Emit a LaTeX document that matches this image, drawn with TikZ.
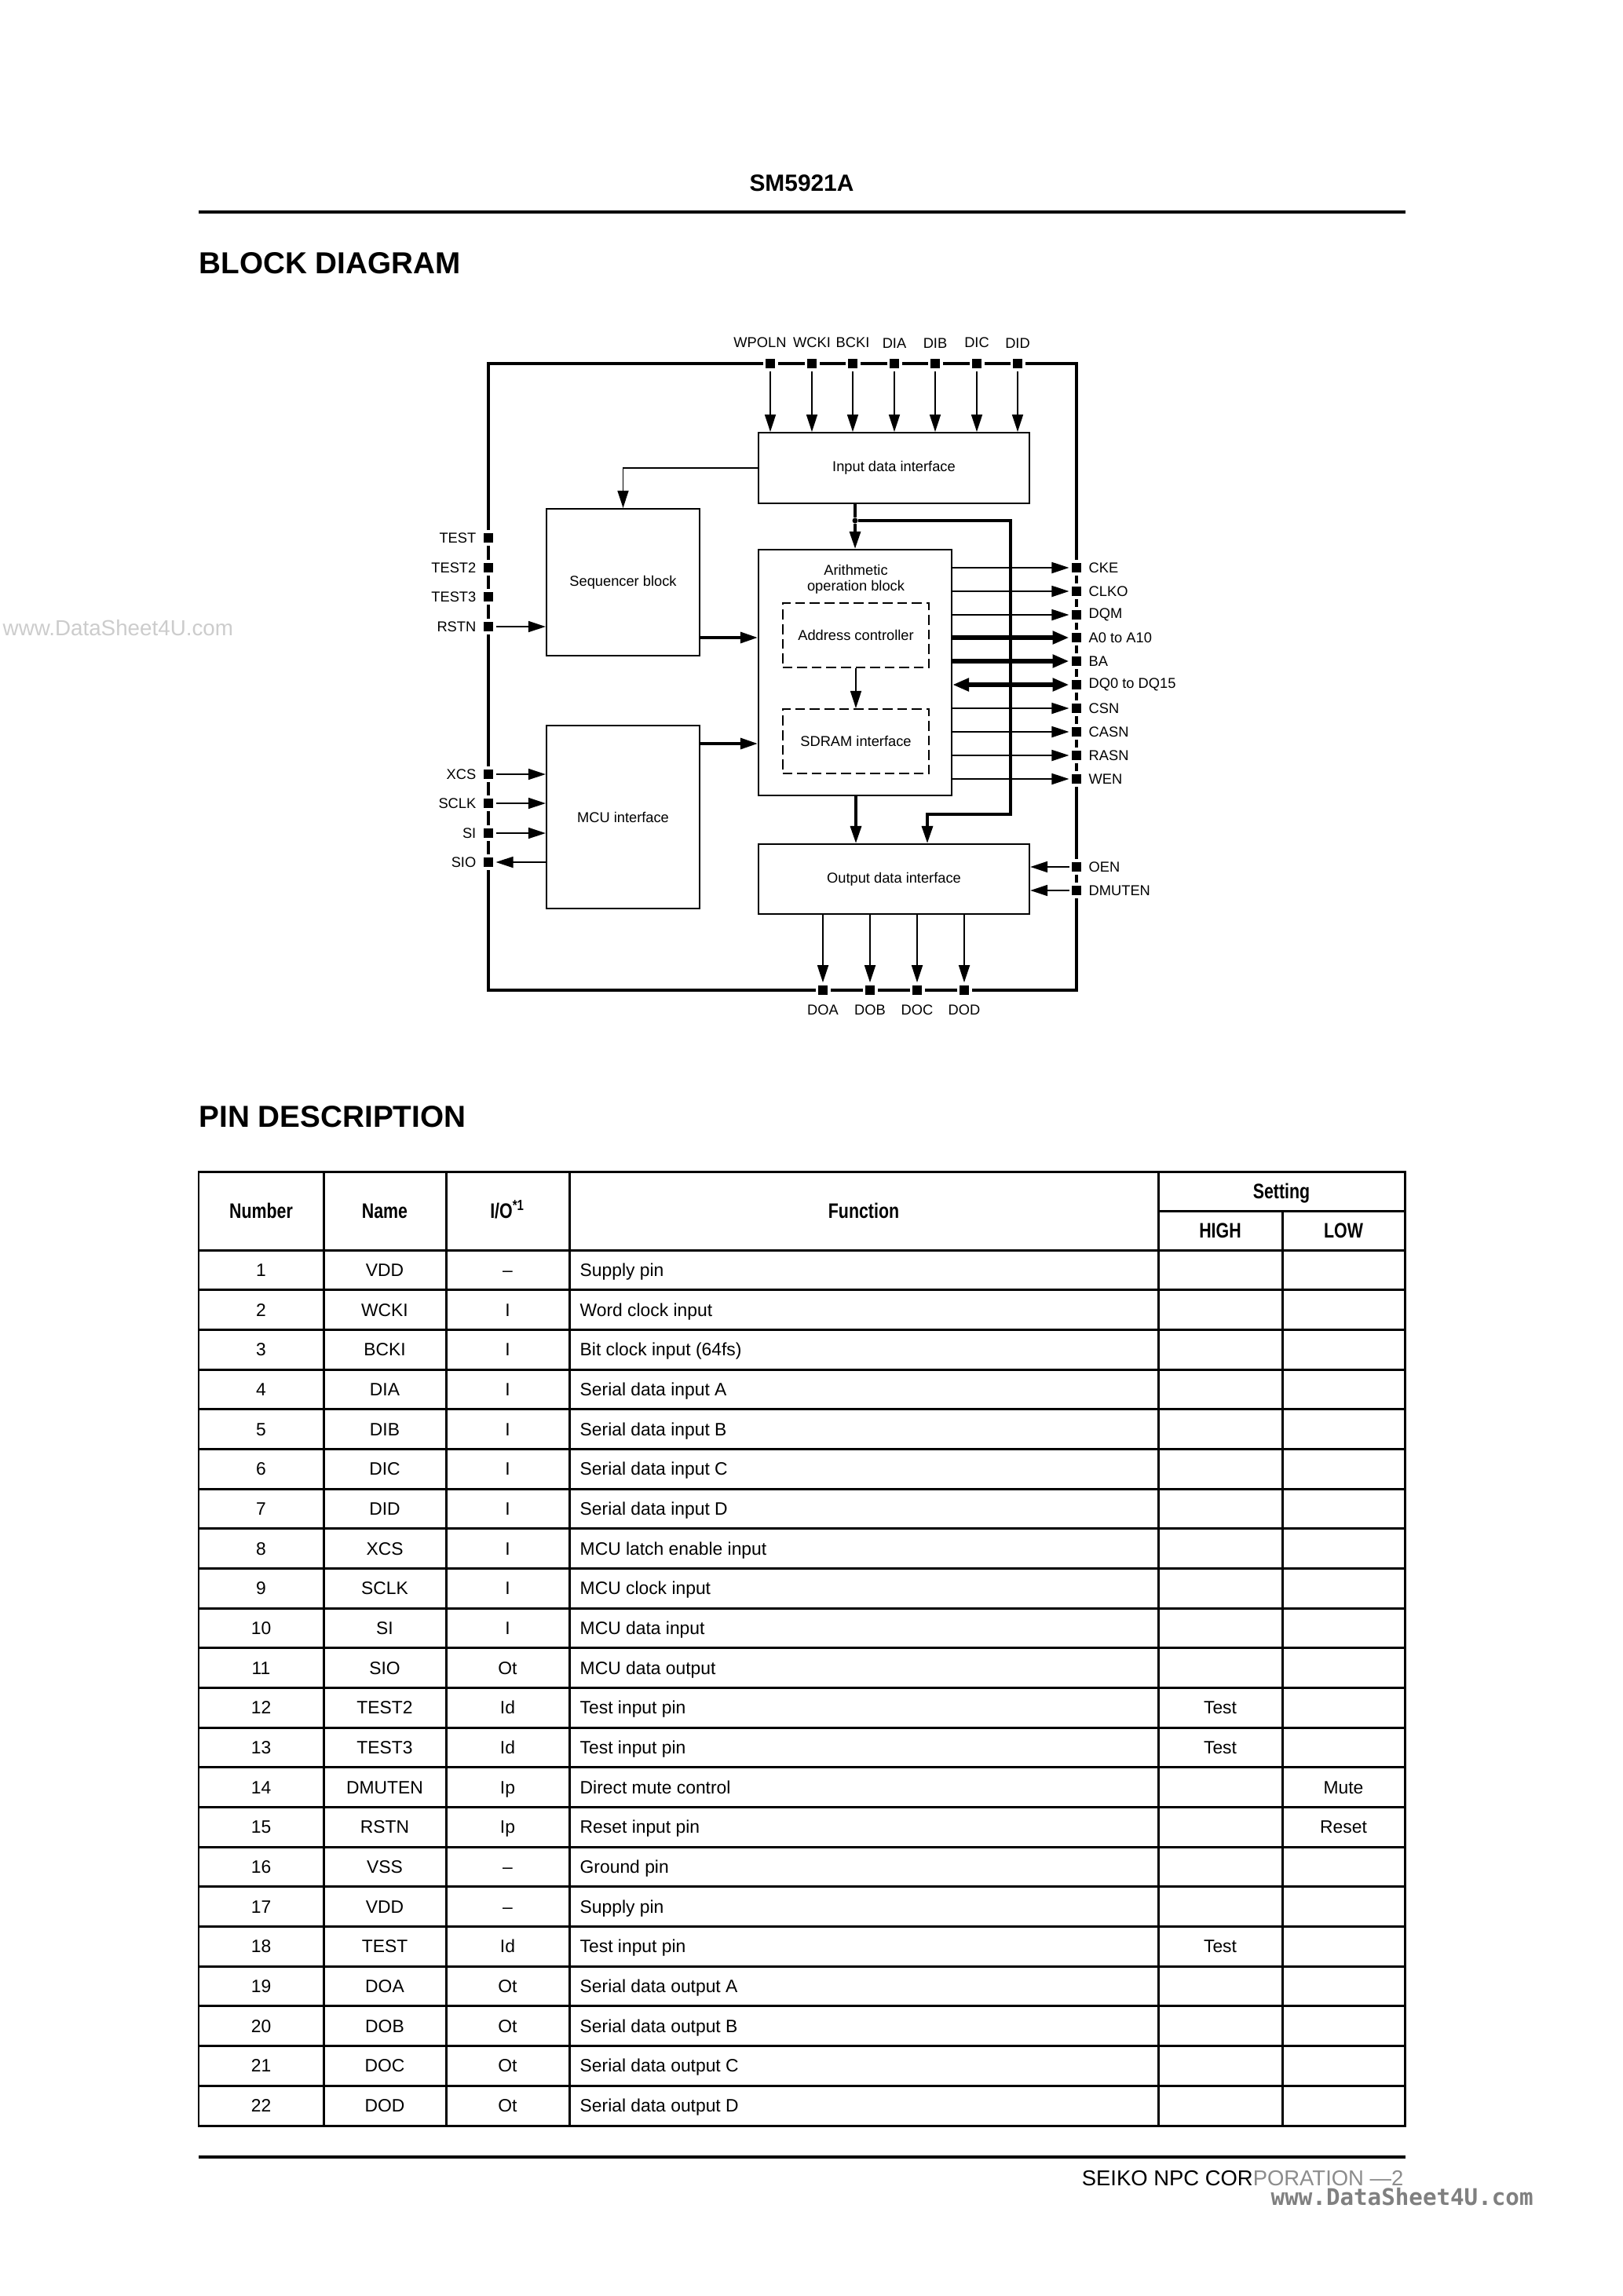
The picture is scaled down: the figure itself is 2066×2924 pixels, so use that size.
\documentclass[tikz,border=0pt]{standalone}
\usepackage{fontspec}
\setmainfont{Liberation Sans}
\newfontfamily\condfont{Liberation Sans}[FakeStretch=0.8]
\newfontfamily\markfont{DejaVu Sans Mono}
\usetikzlibrary{arrows.meta,positioning}

\newcommand\diagfont{\fontsize{5.2}{5.8}\selectfont}
\newcommand\cellfont{\fontsize{6.5}{7.5}\selectfont}
\newcommand\headfont{\condfont\bfseries\fontsize{7.6}{8.5}\selectfont}

\tikzset{
    blockbox/.style={
        rectangle,
        draw,
        line width=0.6pt,
        inner sep=0pt,
        align=center,
        font=\diagfont
    },
    subbox/.style={
        blockbox,
        dash pattern=on 1.25mm off 0.6mm
    },
    pinsq/.style={
        rectangle,
        fill=black,
        draw=white,
        line width=0.35mm,
        minimum width=1.55mm,
        minimum height=1.6mm,
        inner sep=0pt
    },
    pinlbl/.style={
        font=\diagfont,
        inner sep=0pt
    },
    junction/.style={
        circle,
        fill=black,
        minimum size=0.7mm,
        inner sep=0pt
    },
    sig/.style={
        -{Triangle[length=2.2mm,width=1.4mm]},
        line width=0.5pt
    },
    widesig/.style={
        -{Triangle[length=2.2mm,width=1.4mm]},
        line width=0.95pt
    },
    busarrow/.style={
        -{Triangle[length=2.1mm,width=1.6mm]},
        line width=1.7pt
    },
    bibus/.style={
        {Triangle[length=2.1mm,width=1.6mm]}-{Triangle[length=2.1mm,width=1.6mm]},
        line width=1.7pt
    },
    frameline/.style={
        line width=0.95pt
    },
    cell/.style={
        font=\cellfont,
        inner sep=0pt,
        anchor=base
    },
    headcell/.style={
        font=\headfont,
        inner sep=0pt,
        anchor=base
    }
}

\begin{document}
\begin{tikzpicture}[x=0.01cm, y=-0.01cm]
    \useasboundingbox (0,0) rectangle (2066,2924);

    % Page header
    \node[anchor=base, inner sep=0pt, font=\bfseries\fontsize{8.5}{10}\selectfont] (partno) at (1021,243) {SM5921A};
    \draw[line width=1.1pt] (253,270) -- (1790,270);
    \node[anchor=base west, inner sep=0pt, font=\bfseries\fontsize{11}{13}\selectfont] (blktitle) at (253,348) {BLOCK DIAGRAM};
    \node[anchor=base west, inner sep=0pt, font=\fontsize{7.9}{9}\selectfont, text=black!20] (wmtop) at (3,809) {www.DataSheet4U.com};

    % Chip frame
    \draw[frameline] (622,463) rectangle (1371,1261);

    % Internal blocks
    \node[blockbox, minimum width=3.45cm, minimum height=0.90cm] (inbox)  at (1138.5,596)   {Input data interface};
    \node[blockbox, minimum width=1.95cm, minimum height=1.87cm] (seq)    at (793.5,741.5)  {Sequencer block};
    \node[blockbox, minimum width=2.46cm, minimum height=3.13cm] (arith)  at (1089,856.5)   {};
    \node[pinlbl, align=center] (arithlbl) at (1090,738) {Arithmetic\\operation block};
    \node[subbox, minimum width=1.86cm, minimum height=0.82cm] (addr)   at (1090,809)  {Address controller};
    \node[subbox, minimum width=1.86cm, minimum height=0.82cm] (sdram)  at (1090,944)  {SDRAM interface};
    \node[blockbox, minimum width=1.95cm, minimum height=2.33cm] (mcu)    at (793.5,1040.5) {MCU interface};
    \node[blockbox, minimum width=3.45cm, minimum height=0.89cm] (outbox) at (1138.5,1119.5) {Output data interface};

    % Top input pins
    \foreach \pin/\xpos in {WPOLN/981, WCKI/1034, BCKI/1086, DIA/1139, DIB/1191, DIC/1244, DID/1296} {
        \node[pinsq] (p\pin) at (\xpos,463) {};
        \draw[sig] (p\pin) -- (p\pin |- inbox.north);
    }
    \foreach \pin in {WCKI, BCKI, DIA, DIB, DIC, DID}
        \node[pinlbl, above=0.95mm of p\pin] (l\pin) {\pin};
    \node[pinlbl, above=0.95mm of pWPOLN, xshift=-1.3mm] (lWPOLN) {WPOLN};

    % Left pins
    \foreach \pin/\ypos in {TEST/685, TEST2/723, TEST3/760, RSTN/798, XCS/986, SCLK/1023, SI/1061, SIO/1098} {
        \node[pinsq] (p\pin) at (622,\ypos) {};
        \node[pinlbl, left=0.55mm of p\pin] (l\pin) {\pin};
    }

    % Right pins
    \foreach \nm/\txt/\ypos in {CKE/CKE/723, CLKO/CLKO/753, DQM/DQM/783, A/A0 to A10/812, BA/BA/842,
                               DQ/DQ0 to DQ15/872, CSN/CSN/902, CASN/CASN/932, RASN/RASN/962, WEN/WEN/992,
                               OEN/OEN/1104, DMUTEN/DMUTEN/1134} {
        \node[pinsq] (p\nm) at (1371,\ypos) {};
        \node[pinlbl, right=0.55mm of p\nm] (l\nm) {\txt};
    }

    % Bottom output pins
    \foreach \pin/\xpos in {DOA/1048, DOB/1108, DOC/1168, DOD/1228} {
        \node[pinsq] (p\pin) at (\xpos,1261) {};
        \node[pinlbl, below=0.78mm of p\pin] (l\pin) {\pin};
        \draw[sig] (outbox.south -| p\pin) -- (p\pin);
    }

    % --- Control and data paths ---
    \draw[sig] (inbox.west) -| (seq.north);
    \node[junction] (busjoin) at (1089,663) {};
    \draw[line width=0.95pt] (inbox.south -| busjoin) -- (busjoin);
    \draw[widesig] (busjoin) -- (arith.north);
    \coordinate (busdrop) at (1181,1037);
    \draw[widesig] (busjoin) -- (busjoin -| 1287,0) |- (busdrop) -- (busdrop |- outbox.north);

    \draw[widesig] (seq.east |- 0,812) -- (arith.west |- 0,812);
    \draw[widesig] (mcu.east |- 0,947) -- (arith.west |- 0,947);
    \draw[sig] (addr.south) -- (sdram.north);
    \draw[widesig] (arith.south -| sdram.south) -- (outbox.north -| sdram.south);

    \draw[sig] (pRSTN) -- (seq.west |- pRSTN);
    \foreach \pin in {XCS, SCLK, SI}
        \draw[sig] (p\pin) -- (mcu.west |- p\pin);
    \draw[sig] (mcu.west |- pSIO) -- (pSIO);

    \foreach \nm in {CKE, CLKO, DQM, CSN, CASN, RASN, WEN}
        \draw[sig] (arith.east |- p\nm) -- (p\nm);
    \draw[busarrow] (arith.east |- pA) -- (pA);
    \draw[busarrow] (arith.east |- pBA) -- (pBA);
    \draw[bibus] (arith.east |- pDQ) -- (pDQ);

    \draw[sig] (pOEN) -- (outbox.east |- pOEN);
    \draw[sig] (pDMUTEN) -- (outbox.east |- pDMUTEN);

    % Pin description table
    \node[anchor=base west, inner sep=0pt, font=\bfseries\fontsize{11}{13}\selectfont] (pintitle) at (253,1435) {PIN DESCRIPTION};

    \begin{scope}[line width=0.85pt]
        \draw (253,1492) rectangle (1789,2707);
        \draw (1475,1542) -- (1789,1542);
        \foreach \r in {0,...,21}
            \draw (253,1592+\r*50.68) -- (1789,1592+\r*50.68);
        \foreach \cx in {412, 568, 725, 1475}
            \draw (\cx,1492) -- (\cx,2707);
        \draw (1633,1542) -- (1633,2707);
    \end{scope}

    \node[headcell] (hnum)  at (332.5,1551) {Number};
    \node[headcell] (hname) at (490,1551)   {Name};
    \node[headcell] (hio)   at (646.5,1551) {I/O\textsuperscript{*1}};
    \node[headcell] (hfunc) at (1100,1551)  {Function};
    \node[headcell] (hset)  at (1632,1526)  {Setting};
    \node[headcell] (hhigh) at (1554,1576)  {HIGH};
    \node[headcell] (hlow)  at (1711,1576)  {LOW};

    \foreach \num/\pname/\io/\func/\hi/\lo [count=\r] in {
        1/VDD/–/Supply pin//, 2/WCKI/I/Word clock input//, 3/BCKI/I/Bit clock input (64fs)//,
        4/DIA/I/Serial data input A//, 5/DIB/I/Serial data input B//, 6/DIC/I/Serial data input C//,
        7/DID/I/Serial data input D//, 8/XCS/I/MCU latch enable input//, 9/SCLK/I/MCU clock input//,
        10/SI/I/MCU data input//, 11/SIO/Ot/MCU data output//, 12/TEST2/Id/Test input pin/Test/,
        13/TEST3/Id/Test input pin/Test/, 14/DMUTEN/Ip/Direct mute control//Mute,
        15/RSTN/Ip/Reset input pin//Reset, 16/VSS/–/Ground pin//, 17/VDD/–/Supply pin//,
        18/TEST/Id/Test input pin/Test/, 19/DOA/Ot/Serial data output A//,
        20/DOB/Ot/Serial data output B//, 21/DOC/Ot/Serial data output C//,
        22/DOD/Ot/Serial data output D//} {
        \pgfmathsetmacro\ry{1592+(\r-0.5)*50.68+8}
        \node[cell] (num\r)  at (332.5,\ry) {\num};
        \node[cell] (name\r) at (490,\ry)   {\pname};
        \node[cell] (io\r)   at (646.5,\ry) {\io};
        \node[cell, anchor=base west] (func\r) at (738,\ry) {\func};
        \node[cell] (hi\r)   at (1554,\ry)  {\hi};
        \node[cell] (lo\r)   at (1711,\ry)  {\lo};
    }

    % Footer
    \draw[line width=1pt] (253,2747) -- (1790,2747);
    \node[anchor=base east, inner sep=0pt, font=\fontsize{7.8}{9}\selectfont] (footer) at (1788,2783)
        {SEIKO NPC COR\textcolor{black!45}{PORATION —2}};
    \node[anchor=base west, inner sep=0pt, font=\markfont\bfseries\fontsize{8.3}{9}\selectfont, text=black!50] (wmbottom) at (1618,2808)
        {www.DataSheet4U.com};
\end{tikzpicture}
\end{document}
